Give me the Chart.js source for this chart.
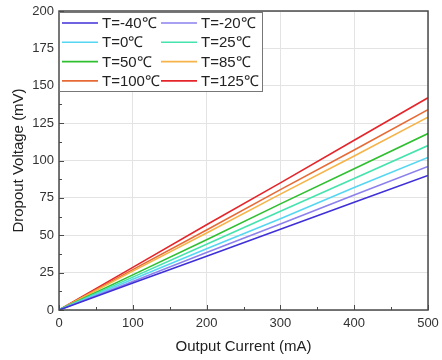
<!DOCTYPE html>
<html>
<head>
<meta charset="utf-8">
<script src="https://cdn.jsdelivr.net/npm/chart.js@4.4.0/dist/chart.umd.min.js"></script>
<style>
  html, body { margin: 0; padding: 0; background: #fff; }
  #wrap { width: 442px; height: 360px; position: relative; }
</style>
</head>
<body>
<div id="wrap"><canvas id="dropChart"></canvas></div>
<script>
// output current (mA)
const currents = [0, 100, 200, 300, 400, 500];
// dropout voltage (mV) per temperature
const tempLabels = ['T=-40℃', 'T=-20℃', 'T=0℃', 'T=25℃', 'T=50℃', 'T=85℃', 'T=100℃', 'T=125℃'];
const vM40 = [0, 18, 36, 54, 72, 90];
const vM20 = [0, 19, 38.5, 57.5, 77, 96];
const v0 = [0, 20.5, 41, 61, 82, 102];
const v25 = [0, 22, 44, 66, 88, 110];
const v50 = [0, 23.5, 47, 71, 94.5, 118];
const v85 = [0, 26, 51.5, 77.5, 103, 129];
const v100 = [0, 27, 53.5, 80.5, 107, 134];
const v125 = [0, 28.5, 57, 85, 113.5, 142];
const yTicks = [0, 25, 50, 75, 100, 125, 150, 175, 200];
const xTicks = [0, 100, 200, 300, 400, 500];

const seriesValues = [vM40, vM20, v0, v25, v50, v85, v100, v125];
const seriesColors = ['#3f2fd8', '#8b80ee', '#55d6f2', '#45e3ad', '#2fbf2f', '#f6b347', '#e66a35', '#e4252a'];

const FONT = '"Liberation Sans", Arial, sans-serif';

// frame, inward ticks and legend box
const framePlugin = {
    id: 'frame',
    afterDraw(chart) {
        const ctx = chart.ctx;
        const a = chart.chartArea;
        const xs = chart.scales.x, ys = chart.scales.y;
        ctx.save();
        ctx.strokeStyle = '#4a4a4a';
        ctx.lineWidth = 1;
        // ticks
        for (let v = 0; v <= 500; v += 50) {
            const px = Math.round(xs.getPixelForValue(v)) + 0.5;
            const len = v % 100 === 0 ? 5 : 3;
            ctx.beginPath();
            ctx.moveTo(px, a.bottom); ctx.lineTo(px, a.bottom - len);
            ctx.stroke();
        }
        for (let v = 0; v <= 200; v += 12.5) {
            const py = Math.round(ys.getPixelForValue(v)) + 0.5;
            const len = v % 25 === 0 ? 5 : 3;
            ctx.beginPath();
            ctx.moveTo(a.left, py); ctx.lineTo(a.left + len, py);
            ctx.stroke();
        }
        ctx.lineWidth = 1.5;
        ctx.strokeRect(a.left, a.top, a.right - a.left, a.bottom - a.top);

        // legend
        const bx = a.left, by = a.top + 1, bw = 203, bh = 79;
        ctx.fillStyle = '#fff';
        ctx.fillRect(bx, by, bw, bh);
        ctx.strokeStyle = '#777';
        ctx.lineWidth = 1;
        ctx.strokeRect(bx + 0.5, by + 0.5, bw, bh);
        ctx.font = '15px ' + FONT;
        ctx.textBaseline = 'middle';
        ctx.fillStyle = '#222';
        chart.data.datasets.forEach((ds, i) => {
            const col = i % 2, row = Math.floor(i / 2);
            const x0 = col === 0 ? bx + 3 : bx + 102;
            const yy = by + 11 + row * 19.3;
            ctx.strokeStyle = ds.borderColor;
            ctx.lineWidth = 1.6;
            ctx.beginPath();
            ctx.moveTo(x0, yy); ctx.lineTo(x0 + 36, yy);
            ctx.stroke();
            ctx.fillText(ds.label, x0 + 40, yy + 1);
        });
        ctx.restore();
    }
};

const whiteBg = {
    id: 'whiteBg',
    beforeDraw(chart) {
        const ctx = chart.ctx;
        ctx.save();
        ctx.fillStyle = '#fff';
        ctx.fillRect(0, 0, chart.width, chart.height);
        ctx.restore();
    }
};

new Chart(document.getElementById('dropChart'), {
    type: 'line',
    data: {
        datasets: seriesValues.map((vals, i) => ({
            label: tempLabels[i],
            data: currents.map((c, j) => ({ x: c, y: vals[j] })),
            borderColor: seriesColors[i],
            backgroundColor: seriesColors[i],
            borderWidth: 1.6,
            pointRadius: 0,
            tension: 0
        }))
    },
    options: {
        responsive: true,
        maintainAspectRatio: false,
        animation: false,
        layout: { padding: { top: 11, right: 14, left: 6, bottom: 0 } },
        plugins: {
            legend: { display: false },
            tooltip: { enabled: false }
        },
        scales: {
            x: {
                type: 'linear',
                min: 0, max: 500,
                afterBuildTicks(axis) { axis.ticks = xTicks.map(v => ({ value: v })); },
                afterFit(axis) { axis.height = 50; axis.paddingRight = 0; axis.paddingLeft = 0; },
                grid: { color: '#e3e3e3', drawTicks: false },
                border: { display: false },
                ticks: { color: '#333', padding: 6, font: { family: FONT, size: 13 } },
                title: { display: true, text: 'Output Current (mA)', color: '#222', padding: { top: 0 }, font: { family: FONT, size: 15 } }
            },
            y: {
                type: 'linear',
                min: 0, max: 200,
                afterBuildTicks(axis) { axis.ticks = yTicks.map(v => ({ value: v })); },
                afterFit(axis) { axis.width = 53; axis.paddingTop = 0; axis.paddingBottom = 0; },
                grid: { color: '#e3e3e3', drawTicks: false },
                border: { display: false },
                ticks: { color: '#333', padding: 5, font: { family: FONT, size: 13 } },
                title: { display: true, text: 'Dropout Voltage (mV)', color: '#222', padding: { bottom: 0 }, font: { family: FONT, size: 15 } }
            }
        }
    },
    plugins: [whiteBg, framePlugin]
});
</script>
</body>
</html>
